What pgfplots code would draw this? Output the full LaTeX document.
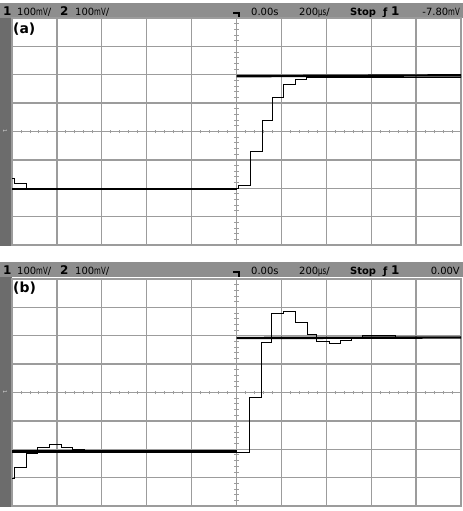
\documentclass[border=0pt]{standalone}
\usepackage{pgfplots}
\pgfplotsset{compat=1.18}
\usepackage{fontspec}
\setmainfont{DejaVu Sans}

\definecolor{hdr}{HTML}{8E8E8E}
\definecolor{strip}{HTML}{6C6C6C}
\definecolor{gridc}{HTML}{9C9C9C}

\newcommand{\mv}{\scalebox{0.7}[1]{mV}}
\newcommand{\hd}{\fontsize{10}{11}\selectfont}
\newcommand{\hb}{\fontsize{12}{13}\selectfont\bfseries}

\pgfplotsset{scope/.style={
  scale only axis, width=449bp, height=227bp,
  anchor=south west,
  xmin=-5, xmax=5, ymin=-4, ymax=4,
  xtick={-5,...,5}, ytick={-4,...,4},
  xticklabel=\empty, yticklabel=\empty,
  major tick length=0pt,
  grid=major, grid style={gridc, line width=1.3bp},
  axis line style={gridc, line width=1.3bp},
  thick trace/.style={black, line width=2.4bp},
  thin trace/.style={black, line width=1bp, const plot},
}}

% small ticks along the centre lines
\newcommand{\centreticks}{%
  \pgfplotsinvokeforeach{-4.8,-4.6,...,4.9}{\draw[gridc, line width=0.9bp] (axis cs:##1,-0.07) -- (axis cs:##1,0.07);}
  \pgfplotsinvokeforeach{-3.8,-3.6,...,3.9}{\draw[gridc, line width=0.9bp] (axis cs:-0.045,##1) -- (axis cs:0.045,##1);}
}

% header bar, top edge at y=#1
\newcommand{\header}[2]{%
  \fill[hdr] (0,#1-15) rectangle (463,#1);
  \node[anchor=base west, inner sep=0] at (3,#1-13) {\hb 1};
  \node[anchor=base west, inner sep=0] at (17,#1-13) {\hd 100\mv/};
  \node[anchor=base west, inner sep=0] at (60,#1-13) {\hb 2};
  \node[anchor=base west, inner sep=0] at (75,#1-13) {\hd 100\mv/};
  \draw[black, line width=1.2bp] (233,#1-10) -- (239,#1-10) -- (239,#1-15);
  \node[anchor=base west, inner sep=0] at (251,#1-13) {\hd 0.00s};
  \node[anchor=base west, inner sep=0] at (299,#1-13) {\hd 200\scalebox{0.7}[1]{µs}/};
  \node[anchor=base west, inner sep=0] at (350,#1-13) {\hd\bfseries Stop};
  \node[anchor=base west, inner sep=0] at (383,#1-13) {\hd\bfseries ƒ};
  \node[anchor=base west, inner sep=0] at (391,#1-13) {\hb 1};
  \node[anchor=base east, inner sep=0] at (460,#1-13) {\hd #2};
}

\begin{document}
\begin{tikzpicture}[x=1bp, y=1bp]
\useasboundingbox (0,0) rectangle (463,511);
\fill[white] (0,0) rectangle (463,511);

% ---------------- panel (a)
\header{508}{-7.80\mv}
\fill[strip] (0,265) rectangle (12,493);
\node[rotate=-90, text=white!85!black, inner sep=0] at (5,380) {\fontsize{5}{5}\selectfont 1};
\begin{axis}[scope, at={(12bp,266bp)}]
\centreticks
\addplot[thick trace] coordinates {(-5,-2.02) (0,-2.02)};
\addplot[thick trace] coordinates {(0,1.95) (2,1.96) (5,1.98)};
\addplot[thin trace] coordinates {
  (-5.00,-1.67) (-4.94,-1.85) (-4.68,-2.00) (0.04,-1.92)
  (0.31,-0.71) (0.57,0.40) (0.80,1.19) (1.05,1.67)
  (1.31,1.84) (1.55,1.92) (5.00,1.95)
};
\end{axis}
\node[anchor=north west, inner sep=0] at (13,488) {\fontsize{14}{15}\selectfont\bfseries (a)};

% ---------------- panel (b)
\header{249}{0.00V}
\fill[strip] (0,4) rectangle (12,234);
\node[rotate=-90, text=white!85!black, inner sep=0] at (5,119) {\fontsize{5}{5}\selectfont 1};
\begin{axis}[scope, at={(12bp,5bp)}]
\centreticks
\addplot[thick trace] coordinates {(-5,-2.08) (0,-2.08)};
\addplot[thick trace] coordinates {(0,1.92) (2.5,1.93) (5,1.94)};
\addplot[thin trace] coordinates {
  (-5.00,-3.03) (-4.94,-2.63) (-4.68,-2.15) (-4.43,-1.93)
  (-4.16,-1.84) (-3.90,-1.93) (-3.65,-2.01) (-3.39,-2.10)
  (-2.60,-2.12) (-2.00,-2.10) (0.29,-0.19) (0.55,1.75)
  (0.79,2.77) (1.05,2.85) (1.31,2.46) (1.57,2.05)
  (1.79,1.79) (2.06,1.74) (2.31,1.83) (2.55,1.91)
  (2.80,2.00) (3.55,1.95) (5.00,1.95)
};
\end{axis}
\node[anchor=north west, inner sep=0] at (13,229) {\fontsize{14}{15}\selectfont\bfseries (b)};
\end{tikzpicture}
\end{document}
